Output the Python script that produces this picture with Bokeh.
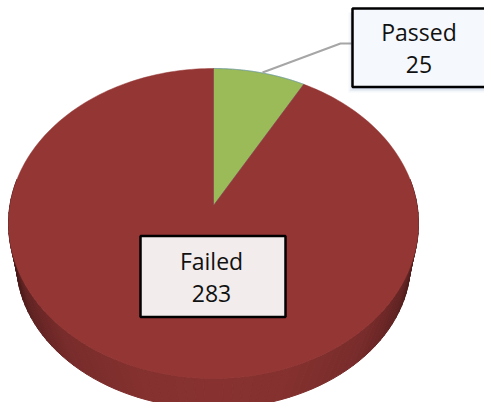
import numpy as np
from bokeh.plotting import figure
from bokeh.embed import file_html
from bokeh.resources import INLINE
from bokeh.core.properties import value

categories = ["Passed", "Failed"]
counts = [25, 283]

W, H = 484, 402
CX, CY = 213.0, 205.0     # pie centre as projected
R = 203.6
TILT_A, TILT_C = 152.9, 0.116   # perspective of the top face


def rim(theta):
    d = 1 + TILT_C * np.cos(theta)
    return CX + R * np.sin(theta) / d, CY - TILT_A * np.cos(theta) / d


def lower_rim(theta):
    return CX + 197 * np.sin(theta), 262 - 146 * np.cos(theta)


def shade(theta):
    s = np.abs(np.sin(theta))
    stops_s = [0.0, 0.35, 0.7, 0.9, 1.0]
    r = np.interp(s, stops_s, [0x88, 0x84, 0x78, 0x62, 0x48])
    g = np.interp(s, stops_s, [0x33, 0x31, 0x2c, 0x24, 0x1a])
    b = np.interp(s, stops_s, [0x31, 0x2f, 0x2b, 0x23, 0x19])
    return "#%02x%02x%02x" % (int(r), int(g), int(b))


p = figure(width=W, height=H, x_range=(0, W), y_range=(H, 0),
           output_backend="svg", toolbar_location=None,
           min_border=0, outline_line_color=None)
p.axis.visible = False
p.grid.visible = False
p.background_fill_color = "white"
p.border_fill_color = "white"

# side wall, as shaded strips
edges = np.radians(np.linspace(80, 280, 81))
for a, b in zip(edges[:-1], edges[1:]):
    xa, ya = rim(np.array([a, b]))
    xb, yb = lower_rim(np.array([b, a]))
    c = shade((a + b) / 2)
    p.patch(list(xa) + list(xb), list(ya) + list(yb),
            fill_color=c, line_color=c, line_width=1)

# top face: slices from the values
total = sum(counts)
start = 0.0
face_colors = {"Passed": "#9bbb59", "Failed": "#943634"}
for name, v in zip(categories, counts):
    end = start + 2 * np.pi * v / total
    th = np.linspace(start, end, 240)
    x, y = rim(th)
    p.patch([CX] + list(x), [CY] + list(y),
            fill_color=face_colors[name], line_color=face_colors[name], line_width=0.5)
    if name == "Passed":
        p.line([CX] + list(x) + [CX], [CY] + list(y) + [CY],
               line_color="#4f81bd", line_width=1, line_alpha=0.55)
    start = end

# leader line
p.line([262, 340, 351], [72, 43, 43], line_color="#a6a6a6", line_width=2)

# Passed box, with soft shadow
for grow, alpha in zip([5, 3.5, 2, 1], [0.06, 0.08, 0.10, 0.12]):
    p.quad(left=[351 - grow + 2], right=[W + 5], top=[12], bottom=[87 + grow],
           fill_color="#5b7fb0", fill_alpha=alpha, line_color=None)
p.quad(left=[352], right=[W + 5], top=[8], bottom=[86.5],
       fill_color="#f5f8fc", line_color="black", line_width=2.5)

# Failed box
p.quad(left=[140], right=[285], top=[235.5], bottom=[316.5],
       fill_color="#f3ecec", line_color="black", line_width=2.5)

font = value("Open Sans")
labels = [(418.5, 31, categories[0]), (418.5, 64, str(counts[0])),
          (211, 260, categories[1]), (211, 293, str(counts[1]))]
p.text([t[0] for t in labels], [t[1] for t in labels], text=[t[2] for t in labels],
       text_font=font, text_font_size="23px", text_color="#111111",
       text_align="center", text_baseline="middle")

open("out.html", "w").write(file_html(p, INLINE))
